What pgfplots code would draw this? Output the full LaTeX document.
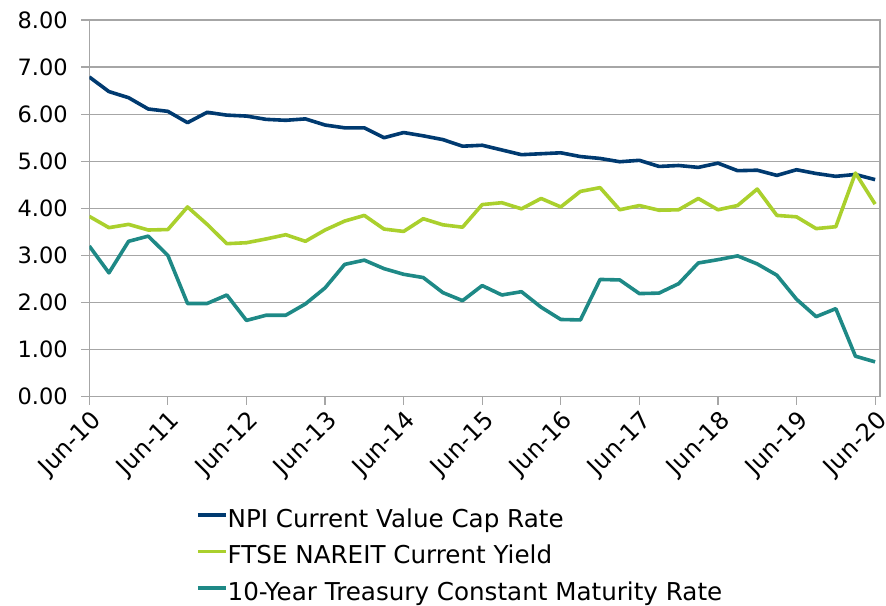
\documentclass[border=0pt]{standalone}
\usepackage{fontspec}
\setmainfont{DejaVu Sans}
\usepackage{pgfplots}
\usepackage{pgfplotstable}
\pgfplotsset{compat=1.18}

\definecolor{npiblue}{RGB}{0,58,112}
\definecolor{reitgreen}{RGB}{170,208,45}
\definecolor{tsyteal}{RGB}{30,137,134}
\definecolor{gridgray}{RGB}{166,166,166}

% quarterly, Jun-10 .. Jun-20
\pgfplotstableread{
q npi ftse tsy
0 6.79 3.83 3.20
1 6.48 3.59 2.63
2 6.35 3.66 3.30
3 6.11 3.54 3.41
4 6.06 3.55 3.00
5 5.82 4.03 1.98
6 6.04 3.66 1.98
7 5.98 3.25 2.16
8 5.96 3.27 1.62
9 5.89 3.35 1.73
10 5.87 3.44 1.73
11 5.90 3.30 1.97
12 5.77 3.54 2.31
13 5.71 3.73 2.81
14 5.71 3.85 2.90
15 5.50 3.56 2.72
16 5.61 3.51 2.60
17 5.54 3.78 2.53
18 5.46 3.65 2.21
19 5.32 3.60 2.04
20 5.34 4.08 2.36
21 5.24 4.12 2.16
22 5.14 3.99 2.23
23 5.16 4.21 1.90
24 5.18 4.03 1.64
25 5.10 4.36 1.63
26 5.06 4.44 2.49
27 4.99 3.97 2.48
28 5.02 4.06 2.19
29 4.89 3.96 2.20
30 4.91 3.97 2.40
31 4.87 4.21 2.84
32 4.96 3.97 2.91
33 4.80 4.06 2.99
34 4.81 4.41 2.82
35 4.70 3.85 2.58
36 4.82 3.82 2.07
37 4.74 3.57 1.70
38 4.68 3.61 1.87
39 4.72 4.75 0.86
40 4.61 4.09 0.74
}\rates

\begin{document}
\begin{tikzpicture}
\begin{axis}[
  scale only axis,
  width=790.7bp, height=376.7bp,
  xmin=0, xmax=40.25,
  ymin=0, ymax=8,
  xtick={0,4,...,40},
  xticklabels={Jun-10,Jun-11,Jun-12,Jun-13,Jun-14,Jun-15,Jun-16,Jun-17,Jun-18,Jun-19,Jun-20},
  ytick={0,1,...,8},
  /pgf/number format/fixed,
  /pgf/number format/fixed zerofill,
  /pgf/number format/precision=2,
  /pgf/number format/assume math mode=true,
  xtick pos=bottom, ytick pos=left,
  tick align=outside,
  major tick length=8bp,
  every tick/.style={gridgray, line width=1.2bp},
  axis line style={gridgray, line width=1.2bp},
  ymajorgrids,
  grid style={gridgray, line width=1.2bp},
  tick label style={font=\fontsize{22.5bp}{27bp}\selectfont, black},
  yticklabel style={xshift=-10bp},
  xticklabel style={font=\fontsize{24bp}{28bp}\selectfont, rotate=45, anchor=east, inner sep=0pt, xshift=-3bp, yshift=-15bp},
  legend style={
    at={(0.131,-0.296)}, anchor=north west,
    draw=none, fill=none,
    font=\fontsize{24.6bp}{28bp}\selectfont,
    row sep=14.5bp,
    nodes={inner sep=0pt, text height=17bp, text depth=5bp},
  },
  legend cell align=left,
  legend image code/.code={\draw[#1] (4bp,6.5bp) -- (32bp,6.5bp);},
  every axis plot/.append style={line width=3.6bp, line join=round},
]
\addplot[npiblue] table[x=q, y=npi] {\rates};
\addplot[reitgreen] table[x=q, y=ftse] {\rates};
\addplot[tsyteal] table[x=q, y=tsy] {\rates};
\legend{NPI Current Value Cap Rate, FTSE NAREIT Current Yield, 10-Year Treasury Constant Maturity Rate}
\end{axis}
\pgfresetboundingbox
\path[use as bounding box] (current axis.south west) ++(-89.3bp,-209.3bp) rectangle ++(886bp,606bp);
\end{tikzpicture}
\end{document}
